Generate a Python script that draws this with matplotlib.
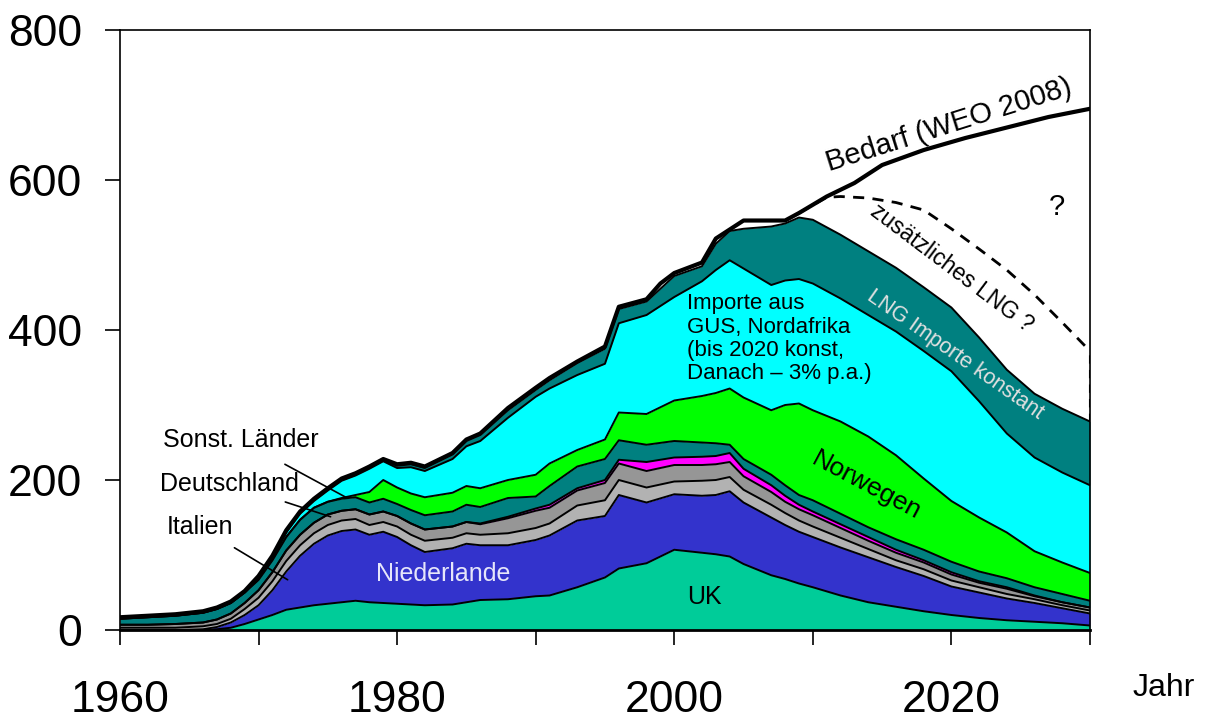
import numpy as np
import matplotlib
matplotlib.use("Agg")
import matplotlib.pyplot as plt

plt.rcParams["font.family"] = ["Liberation Sans", "DejaVu Sans"]

# Jahre der Stuetzstellen
jahre = [1960, 1962, 1964, 1966, 1967, 1968, 1969, 1970, 1971, 1972, 1973, 1974,
         1975, 1976, 1977, 1978, 1979, 1980, 1981, 1982, 1984, 1985, 1986, 1988,
         1990, 1991, 1993, 1995, 1996, 1998, 2000, 2002, 2003, 2004, 2005, 2007,
         2008, 2009, 2010, 2012, 2014, 2016, 2018, 2020, 2022, 2024, 2026, 2028, 2030]

# Oberkante jeder Schicht (kumuliert)
ok_uk = [0, 0, 0, 0, 1, 3, 8, 14, 20, 27, 30, 33, 35, 37, 39, 37, 36, 35, 34, 33,
         34, 37, 40, 41, 45, 46, 57, 70, 82, 89, 107, 103, 101, 98, 88, 73, 68, 62, 57,
         46, 37, 31, 25, 20, 16, 13, 11, 9, 6]
ok_nl = [0, 0, 0, 1, 4, 10, 20, 33, 53, 78, 99, 115, 126, 132, 134, 127, 131, 124, 113, 104,
         109, 115, 113, 113, 120, 126, 146, 152, 180, 170, 181, 179, 180, 185, 170, 150, 140, 131, 124,
         110, 97, 84, 72, 58, 50, 42, 36, 29, 22]
ok_italien = [3, 3, 3, 5, 8, 15, 28, 43, 65, 92, 113, 129, 140, 146, 148, 140, 144, 138, 127, 119,
              123, 129, 127, 129, 136, 142, 166, 173, 200, 190, 198, 199, 200, 204, 187, 167, 156, 146, 138,
              123, 108, 93, 81, 66, 57, 48, 41, 33, 26]
ok_deutschland = [7, 7, 8, 10, 14, 22, 36, 53, 77, 106, 127, 143, 154, 159, 161, 154, 158, 152, 142, 134,
                  138, 144, 141, 149, 159, 163, 186, 196, 222, 212, 220, 220, 221, 224, 205, 184, 171, 161, 153,
                  136, 119, 103, 90, 74, 63, 55, 45, 37, 30]
ok_magenta = [7, 7, 8, 10, 14, 22, 36, 53, 77, 106, 127, 143, 154, 159, 161, 154, 158, 152, 142, 134,
              138, 144, 142, 151, 162, 167, 189, 200, 227, 224, 230, 231, 232, 236, 215, 193, 179, 167, 158,
              141, 124, 107, 93, 77, 65, 57, 46, 37, 30]
ok_sonst = [15, 17, 19, 23, 28, 36, 50, 67, 93, 124, 147, 163, 171, 175, 177, 170, 175, 168, 160, 153,
            158, 167, 164, 176, 178, 192, 218, 228, 253, 247, 252, 250, 249, 247, 228, 207, 193, 180, 173,
            155, 137, 121, 107, 91, 78, 69, 57, 48, 39]
ok_norwegen = [15, 17, 19, 23, 28, 36, 50, 67, 93, 124, 147, 163, 171, 176, 180, 184, 200, 190, 182, 177,
               183, 192, 189, 200, 207, 222, 240, 254, 290, 288, 306, 312, 316, 322, 310, 293, 300, 302, 293,
               278, 258, 233, 202, 172, 150, 130, 105, 90, 76]
ok_gus = [15, 17, 19, 23, 28, 36, 50, 69, 96, 130, 155, 172, 186, 199, 206, 215, 225, 216, 217, 212,
          228, 245, 252, 283, 311, 322, 340, 355, 409, 420, 444, 465, 480, 493, 482, 460, 466, 468, 462,
          442, 420, 398, 372, 345, 305, 262, 230, 210, 193]
ok_lng = [16, 18, 20, 24, 29, 37, 51, 71, 98, 132, 157, 174, 188, 201, 208, 217, 227, 219, 221, 216,
          234, 252, 260, 293, 320, 333, 356, 375, 428, 438, 472, 485, 515, 532, 535, 538, 542, 550, 547,
          527, 505, 483, 457, 430, 390, 347, 315, 295, 278]

bedarf_jahre = [1960, 1962, 1964, 1966, 1967, 1968, 1969, 1970, 1971, 1972, 1973, 1974, 1975, 1976,
                1977, 1978, 1979, 1980, 1981, 1982, 1984, 1985, 1986, 1988, 1990, 1991, 1993, 1995,
                1996, 1998, 1999, 2000, 2002, 2003, 2005, 2008, 2009, 2011, 2013, 2015, 2018, 2021,
                2024, 2027, 2030]
bedarf = [17, 19, 21, 25, 30, 38, 52, 72, 99, 133, 158, 175, 189, 202, 209, 218, 228, 221, 223, 218,
          236, 254, 262, 296, 323, 336, 358, 378, 431, 441, 462, 476, 490, 522, 546, 546, 556, 578,
          596, 620, 640, 656, 670, 684, 695]

zus_lng_jahre = [2009, 2011, 2012, 2014, 2016, 2018, 2020, 2022, 2024, 2026, 2028, 2030]
zus_lng = [556, 577, 578, 576, 570, 560, 535, 508, 480, 447, 410, 372]

schichten = [ok_uk, ok_nl, ok_italien, ok_deutschland, ok_magenta, ok_sonst,
             ok_norwegen, ok_gus, ok_lng]
farben = ["#00cc99", "#3333cc", "#b2b2b2", "#969696", "#ff00ff", "#008080",
          "#00ff00", "#00ffff", "#008080"]

xtick_pos = [1960, 1970, 1980, 1990, 2000, 2010, 2020, 2030]
xtick_lab = ["1960", "", "1980", "", "2000", "", "2020", ""]
ytick_pos = [0, 200, 400, 600, 800]

fig = plt.figure(figsize=(12.08, 7.2), dpi=100)
ax = fig.add_axes([0.0993, 0.125, 0.8030, 0.8333])

unten = np.zeros(len(jahre))
for oben, farbe in zip(schichten, farben):
    oben = np.array(oben, dtype=float)
    ax.fill_between(jahre, unten, oben, color=farbe, linewidth=0)
    unten = oben
for oben in schichten:
    ax.plot(jahre, oben, color="black", lw=1.4, solid_joinstyle="round")

ax.plot(bedarf_jahre, bedarf, color="black", lw=3.0, solid_joinstyle="round")
ax.plot(zus_lng_jahre, zus_lng, color="black", lw=2.0, dashes=(4, 3))
ax.vlines(jahre[-1], ok_lng[-1], zus_lng[-1], colors="black", lw=1.5, linestyles=(0, (4, 3)))

ax.set_xlim(1960, 2030)
ax.set_ylim(0, 800)
ax.set_xticks(xtick_pos)
ax.set_xticklabels(xtick_lab)
ax.set_yticks(ytick_pos)
ax.tick_params(axis="both", direction="out", length=11, width=1.2, labelsize=32)
ax.tick_params(axis="x", pad=25)
ax.tick_params(axis="y", pad=16)
for s in ax.spines.values():
    s.set_linewidth(1.2)
ax.spines["bottom"].set_linewidth(2)

# Beschriftungen
ax.text(2002.2, 44, "UK", fontsize=18, ha="center", va="center")
ax.text(1983.3, 75, "Niederlande", fontsize=18, ha="center", va="center", color="#e6e6fa")
ax.text(2000.9, 449, "Importe aus\nGUS, Nordafrika\n(bis 2020 konst,\nDanach \u2013 3% p.a.)",
        fontsize=16, ha="left", va="top", linespacing=1.15)
ax.text(2013.9, 193, "Norwegen", fontsize=19, ha="center", va="center", rotation=-28)
ax.text(2020.3, 367, "LNG Importe konstant", fontsize=15.5, ha="center", va="center",
        rotation=-35, color="#e0e0e0", rotation_mode="anchor")
ax.text(2020.0, 483, "zus\u00e4tzliches LNG ?", fontsize=16.5, ha="center", va="center",
        rotation=-37, rotation_mode="anchor")
ax.text(2019.8, 673, "Bedarf (WEO 2008)", fontsize=21, ha="center", va="center",
        rotation=17.5, rotation_mode="anchor")
ax.text(2027.6, 564, "?", fontsize=21, ha="center", va="center")

ax.annotate("Sonst. L\u00e4nder", xy=(1976.4, 176), xytext=(1968.7, 253), fontsize=18,
            ha="center", va="center", arrowprops=dict(arrowstyle="-", lw=1.2, color="black",
                                                      shrinkA=14, shrinkB=0))
ax.annotate("Deutschland", xy=(1975.2, 151), xytext=(1967.9, 195), fontsize=18,
            ha="center", va="center", arrowprops=dict(arrowstyle="-", lw=1.2, color="black",
                                                      shrinkA=8, shrinkB=0))
ax.annotate("Italien", xy=(1972.1, 67), xytext=(1965.8, 137), fontsize=18,
            ha="center", va="center", arrowprops=dict(arrowstyle="-", lw=1.2, color="black",
                                                      shrinkA=8, shrinkB=0))

fig.text(0.963, 0.044, "Jahr", fontsize=23, ha="center", va="center")

fig.savefig("out.png", dpi=100)
